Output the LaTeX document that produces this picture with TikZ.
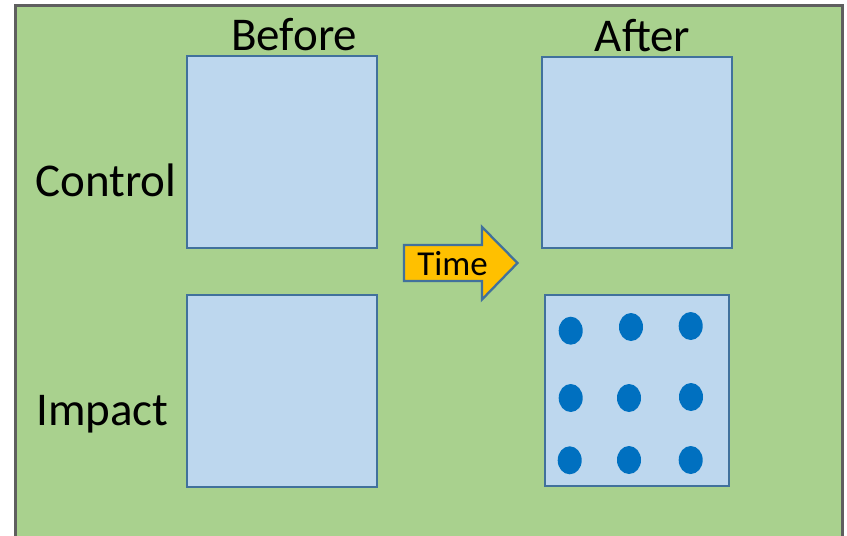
\documentclass[tikz,border=0pt]{standalone}
\usepackage{fontspec}
\setmainfont{Carlito}
\definecolor{field}{HTML}{A9D18E}
\definecolor{plotfill}{HTML}{BDD7EE}
\definecolor{plotline}{HTML}{41719C}
\definecolor{dotblue}{HTML}{0070C0}
\definecolor{arrowfill}{HTML}{FFC000}
\definecolor{frame}{HTML}{5F5F5F}
\tikzset{
  plot/.style={draw=plotline, fill=plotfill, line width=2.3pt, inner sep=0pt},
  organism/.style={fill=dotblue, draw=none},
  bigtext/.style={inner sep=0pt, anchor=base, font=\fontsize{47}{47}\selectfont},
}
\begin{document}
\begin{tikzpicture}[x=1pt, y=-1pt]
  \useasboundingbox (0,0) rectangle (847,536);
  \clip (0,0) rectangle (847,536);
  \fill[white] (0,0) rectangle (847,536);
  % study area
  \draw[fill=field, draw=frame, line width=3pt] (15.5,5.5) rectangle (842.5,560);

  % plots
  \node[plot, minimum width=190pt, minimum height=192pt] (bc) at (282,152) {};
  \node[plot, minimum width=190pt, minimum height=192pt] (bi) at (282,391) {};
  \node[plot, minimum width=190pt, minimum height=191pt] (ac) at (637,152.5) {};
  \node[plot, minimum width=184pt, minimum height=191pt] (ai) at (637,390.5) {};

  % organisms in the impacted plot after the event
  \foreach \x/\y in {570.7/330.7, 631/327, 690.7/326,
                     570.7/398, 629/398, 691/397,
                     569.7/460.3, 629/460, 690.7/460}
    \fill[organism] (\x,\y) ellipse [x radius=12, y radius=14];

  % labels
  \node[bigtext] (before) at (294.2,50) {Before};
  \node[bigtext] (after) at (642.5,51.7) {After};
  \node[bigtext] (control) at (106,196.7) {Control};
  \node[bigtext] (impact) at (102.3,425) {Impact};

  % time arrow
  \draw[fill=arrowfill, draw=plotline, line width=2.3pt, line join=miter]
    (404,245) -- (482,245) -- (482,227) -- (517.5,263) -- (482,299.5)
    -- (482,281) -- (404,281) -- cycle;
  \node[inner sep=0pt, anchor=base, font=\fontsize{35}{35}\selectfont] (time) at (452.5,275) {Time};
\end{tikzpicture}
\end{document}
